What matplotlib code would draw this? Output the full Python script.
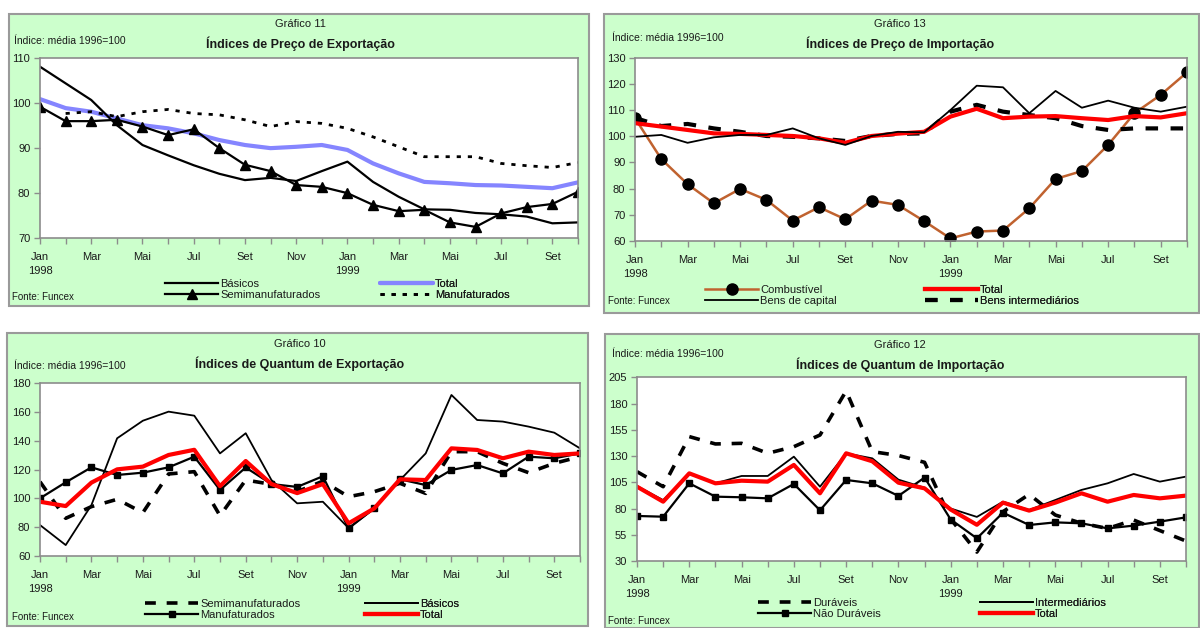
import numpy as np
import matplotlib
matplotlib.use("Agg")
import matplotlib.pyplot as plt
from matplotlib.patches import Rectangle

plt.rcParams['font.family'] = ['Liberation Sans', 'DejaVu Sans']

W, H = 1200, 628
nan = np.nan

meses = ['Jan', '', 'Mar', '', 'Mai', '', 'Jul', '', 'Set', '', 'Nov', '',
         'Jan', '', 'Mar', '', 'Mai', '', 'Jul', '', 'Set', '']
anos = {0: '1998', 12: '1999'}

# Gráfico 11 - preço de exportação
exp_preco_basicos = [108.0, 104.3, 100.6, 95.0, 90.6, 88.3, 86.1, 84.2, 82.8, 83.3, 82.6, 84.8,
                     86.9, 82.4, 79.1, 76.3, 76.2, 75.5, 75.2, 74.7, 73.2, 73.4]
exp_preco_total = [100.8, 98.8, 98.0, 96.5, 95.0, 94.3, 93.2, 91.7, 90.6, 89.9, 90.2, 90.6,
                   89.5, 86.5, 84.3, 82.4, 82.1, 81.7, 81.6, 81.3, 81.0, 82.3]
exp_preco_semi = [99.1, 95.9, 95.9, 96.2, 94.7, 92.8, 94.1, 89.9, 86.2, 84.8, 81.7, 81.3,
                  79.9, 77.3, 75.9, 76.2, 73.4, 72.4, 75.4, 76.8, 77.5, 80.2]
exp_preco_manuf = [nan, 97.6, 98.0, 96.9, 98.0, 98.5, 97.6, 97.3, 96.2, 94.7, 95.8, 95.4,
                   94.3, 92.4, 90.2, 88.0, 88.0, 88.0, 86.5, 86.0, 85.6, 86.7]

# Gráfico 13 - preço de importação
imp_preco_comb = [106.9, 91.3, 81.7, 74.4, 79.9, 75.7, 67.8, 72.9, 68.3, 75.4, 73.8, 67.6,
                  61.0, 63.6, 64.0, 72.5, 83.7, 86.7, 96.7, 108.8, 115.8, 124.4]
imp_preco_total = [105.0, 103.7, 102.4, 101.1, 100.9, 100.5, 100.1, 99.2, 97.5, 100.1, 101.0, 101.7,
                   107.5, 110.5, 106.9, 107.5, 107.7, 106.9, 106.2, 107.7, 107.2, 108.8]
imp_preco_capital = [99.8, 100.5, 97.5, 99.6, 100.5, 100.5, 103.0, 99.2, 96.7, 100.1, 101.7, 101.5,
                     110.0, 119.3, 118.7, 108.8, 117.3, 110.9, 113.6, 110.9, 109.4, 111.3]
imp_preco_interm = [107.0, 103.9, 104.7, 103.0, 101.7, 100.1, 99.8, 99.2, 98.2, 100.1, 100.9, 101.1,
                    109.4, 112.0, 109.4, 108.1, 106.9, 103.9, 102.4, 103.0, 103.0, 103.0]

# Gráfico 10 - quantum de exportação
exp_quant_semi = [111.6, 86.2, 94.3, 99.4, 90.1, 117.0, 118.6, 88.0, 112.8, 109.8, 104.7, 112.0,
                  101.2, 104.7, 110.5, 103.5, 132.5, 132.5, 124.4, 117.9, 124.4, 129.0]
exp_quant_basicos = [81.5, 67.6, 95.4, 141.8, 154.0, 160.3, 157.5, 131.3, 145.3, 112.8, 96.6, 97.7,
                     79.4, 93.1, 112.8, 131.3, 171.9, 154.5, 153.4, 149.9, 145.7, 134.8]
exp_quant_manuf = [100.1, 111.2, 121.6, 116.3, 117.9, 121.6, 129.0, 105.9, 121.5, 110.0, 108.0, 115.4,
                   79.2, 93.1, 113.3, 109.3, 119.8, 123.2, 117.4, 129.0, 127.9, 131.3]
exp_quant_total = [97.7, 94.7, 111.0, 120.2, 122.1, 130.2, 133.8, 108.5, 126.0, 110.0, 103.7, 110.0,
                   82.7, 93.1, 113.3, 112.8, 134.8, 133.7, 127.9, 132.5, 130.2, 131.3]

# Gráfico 12 - quantum de importação
imp_quant_dur = [115.1, 100.8, 148.5, 141.5, 142.1, 132.6, 138.9, 150.0, 192.0, 134.2, 130.5, 124.0,
                 70.0, 38.5, 77.0, 93.5, 73.8, 66.0, 61.0, 69.0, 59.0, 49.0]
imp_quant_interm = [101.5, 88.0, 113.0, 104.0, 111.0, 111.0, 129.4, 100.8, 132.6, 127.8, 107.5, 99.8,
                    80.0, 72.0, 86.5, 78.6, 88.1, 97.7, 104.0, 112.9, 105.6, 110.4]
imp_quant_naodur = [72.9, 72.2, 104.0, 91.3, 90.7, 89.7, 103.4, 78.3, 107.2, 104.0, 92.0, 109.5,
                    69.5, 51.6, 76.0, 64.3, 66.8, 65.9, 61.1, 63.7, 67.5, 71.6]
imp_quant_total = [100.8, 86.5, 113.5, 104.0, 106.5, 105.6, 121.5, 94.5, 132.6, 125.0, 104.6, 99.2,
                   79.0, 64.5, 85.6, 78.0, 85.6, 94.5, 86.5, 92.9, 89.7, 92.3]

VERDE = '#ccffcc'
CINZA = '#8c8c8c'
TXT = '#1a1a1a'

fig = plt.figure(figsize=(W / 100, H / 100), dpi=100)
fig.patch.set_facecolor('white')


def px(x, y):
    return x / W, 1 - y / H


def caixa(x0, y0, x1, y1):
    fig.patches.append(Rectangle(px(x0, y1), (x1 - x0) / W, (y1 - y0) / H,
                                 transform=fig.transFigure, facecolor=VERDE,
                                 edgecolor='#9a9a9a', lw=1.5, zorder=-10))


def eixo(x0, y0, x1, y1, yticks):
    l, b = px(x0, y1)
    ax = fig.add_axes([l, b, (x1 - x0) / W, (y1 - y0) / H])
    ax.set_facecolor('white')
    for s in ax.spines.values():
        s.set_color(CINZA)
        s.set_linewidth(1.2)
    ax.set_xlim(0, 21)
    ax.set_ylim(yticks[0], yticks[-1])
    ax.set_yticks(yticks)
    ax.set_xticks(range(22))
    labels = []
    for i, m in enumerate(meses):
        labels.append(m + ('\n' + anos[i] if i in anos else ''))
    ax.set_xticklabels(labels, linespacing=1.55, va='top')
    ax.tick_params(axis='both', labelsize=8, colors=TXT, length=4, width=1, direction='out', pad=5)
    ax.tick_params(axis='x', color=CINZA, pad=6)
    ax.tick_params(axis='y', color=CINZA, pad=3)
    return ax


def textos(cx, ytop, numero, titulo, xind, yind, xfonte, yfonte):
    fig.text(*px(cx, ytop), numero, ha='center', va='center', fontsize=8, color=TXT)
    fig.text(*px(cx, ytop + 20), titulo, ha='center', va='center', fontsize=9,
             fontweight='bold', color=TXT)
    fig.text(*px(xind, yind), 'Índice: média 1996=100', ha='left', va='center',
             fontsize=7.5, color=TXT)
    fig.text(*px(xfonte, yfonte), 'Fonte: Funcex', ha='left', va='center',
             fontsize=7, color=TXT)


def legenda(ax, handles, labels, x, y):
    leg = ax.legend(handles, labels, loc='upper left', bbox_to_anchor=px(x, y),
                    bbox_transform=fig.transFigure, frameon=False, fontsize=8,
                    handlelength=4.8, handletextpad=0.15, labelspacing=0.08,
                    borderpad=0, borderaxespad=0, numpoints=1)
    for t in leg.get_texts():
        t.set_color(TXT)
    ax.add_artist(leg)


x = np.arange(22)

# ---- Gráfico 11
caixa(9, 14, 589, 306)
ax1 = eixo(40, 57.7, 578, 237.7, [70, 80, 90, 100, 110])
l_tot, = ax1.plot(x, exp_preco_total, color='#8585ff', lw=3, solid_capstyle='round')
l_man, = ax1.plot(x, exp_preco_manuf, color='black', lw=2, linestyle=(0, (1.5, 2.5)))
l_bas, = ax1.plot(x, exp_preco_basicos, color='black', lw=1.6)
l_sem, = ax1.plot(x, exp_preco_semi, color='black', lw=1.6, marker='^', ms=7)
textos(300, 24, 'Gráfico 11', 'Índices de Preço de Exportação', 14, 41, 12, 297)
legenda(ax1, [l_bas, l_sem], ['Básicos', 'Semimanufaturados'], 165, 279)
legenda(ax1, [l_tot, l_man], ['Total', 'Manufaturados'], 380, 279)

# ---- Gráfico 13
caixa(604, 14, 1199, 313)
ax2 = eixo(635, 57.7, 1187, 241, [60, 70, 80, 90, 100, 110, 120, 130])
l_comb, = ax2.plot(x, imp_preco_comb, color='#c0622f', lw=1.8, marker='o', ms=8,
                   mfc='black', mec='black')
l_int, = ax2.plot(x, imp_preco_interm, color='black', lw=3, linestyle=(0, (3, 3)))
l_tot2, = ax2.plot(x, imp_preco_total, color='#ff0000', lw=3)
l_cap, = ax2.plot(x, imp_preco_capital, color='black', lw=1.3)
textos(900, 24, 'Gráfico 13', 'Índices de Preço de Importação', 612, 38, 608, 301)
legenda(ax2, [l_comb, l_cap], ['Combustível', 'Bens de capital'], 705, 285)
legenda(ax2, [l_tot2, l_int], ['Total', 'Bens intermediários'], 925, 285)

# ---- Gráfico 10
caixa(7, 333, 588, 626)
ax3 = eixo(40, 383.3, 580, 556, [60, 80, 100, 120, 140, 160, 180])
l_sem3, = ax3.plot(x, exp_quant_semi, color='black', lw=2.6, linestyle=(0, (3, 3)))
l_bas3, = ax3.plot(x, exp_quant_basicos, color='black', lw=1.3)
l_man3, = ax3.plot(x, exp_quant_manuf, color='black', lw=1.6, marker='s', ms=4)
l_tot3, = ax3.plot(x, exp_quant_total, color='#ff0000', lw=3)
textos(300, 344, 'Gráfico 10', 'Índices de Quantum de Exportação', 14, 366, 12, 617)
legenda(ax3, [l_sem3, l_man3], ['Semimanufaturados', 'Manufaturados'], 145, 599)
legenda(ax3, [l_bas3, l_tot3], ['Básicos', 'Total'], 365, 599)

# ---- Gráfico 12
caixa(605, 334, 1199, 628)
ax4 = eixo(637, 377.3, 1186, 561, [30, 55, 80, 105, 130, 155, 180, 205])
l_dur, = ax4.plot(x, imp_quant_dur, color='black', lw=2.6, linestyle=(0, (3, 3)))
l_int4, = ax4.plot(x, imp_quant_interm, color='black', lw=1.3)
l_nd, = ax4.plot(x, imp_quant_naodur, color='black', lw=1.6, marker='s', ms=4)
l_tot4, = ax4.plot(x, imp_quant_total, color='#ff0000', lw=3)
textos(900, 345, 'Gráfico 12', 'Índices de Quantum de Importação', 612, 354, 608, 621)
legenda(ax4, [l_dur, l_nd], ['Duráveis', 'Não Duráveis'], 758, 598)
legenda(ax4, [l_int4, l_tot4], ['Intermediários', 'Total'], 980, 598)

fig.savefig('out.png', dpi=100)
